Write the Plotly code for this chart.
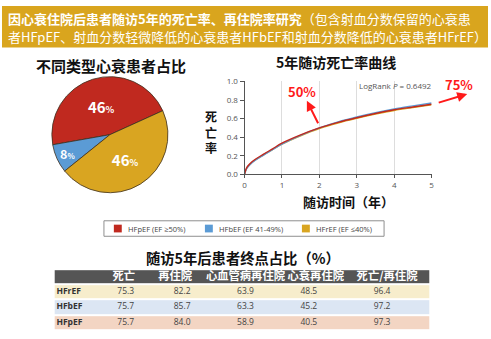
import plotly.graph_objects as go

W, H = 491, 339
FONT = "Noto Sans CJK SC"

# ---- data ----
groups = ["HFpEF (EF ≥50%)", "HFbEF (EF 41-49%)", "HFrEF (EF ≤40%)"]
group_colors = ["#C0291F", "#5B9BD5", "#D9A521"]
pie_values = [46, 8, 46]

years = [0, 0.05, 0.1, 0.2, 0.3, 0.5, 0.75, 1, 1.5, 2, 2.5, 3, 3.5, 4, 4.5, 5]
mort_hfpef = [0, 0.065, 0.095, 0.135, 0.165, 0.215, 0.275, 0.335, 0.425, 0.50, 0.56, 0.61, 0.655, 0.695, 0.725, 0.755]
mort_hfbef = [0, 0.055, 0.085, 0.125, 0.155, 0.205, 0.265, 0.325, 0.42, 0.50, 0.565, 0.618, 0.664, 0.704, 0.737, 0.768]
mort_hfref = [0, 0.058, 0.088, 0.128, 0.158, 0.208, 0.266, 0.325, 0.415, 0.493, 0.553, 0.603, 0.648, 0.688, 0.72, 0.75]

table_cols = ["死亡", "再住院", "心血管病再住院", "心衰再住院", "死亡/再住院"]
table_rows = ["HFrEF", "HFbEF", "HFpEF"]
t_death = [75.3, 75.7, 75.7]
t_readm = [82.2, 85.7, 84.0]
t_cv_readm = [63.9, 63.3, 58.9]
t_hf_readm = [48.5, 45.2, 40.5]
t_death_readm = [96.4, 97.2, 97.3]
table_values = [t_death, t_readm, t_cv_readm, t_hf_readm, t_death_readm]
header_fill = "#555555"
row_fills = ["#F7EDCC", "#DCE6F3", "#F3D5C3"]

# table layout (horizontal positions in pixels of the figure)
table_left, table_right = 53, 432
header_x = [123, 175, 246, 317, 389]
value_x = [125, 182, 246, 310, 384]
label_x = 55

# legend layout (pixels)
legend_box = (103, 222, 386, 238)
legend_sym_x = [113, 205, 303]
legend_sym = 8


def px_x(x):
    return x / W


def px_y(y):
    return 1 - y / H


fig = go.Figure()

# ---- pie ----
fig.add_trace(go.Pie(
    labels=groups,
    values=pie_values,
    sort=False,
    direction="counterclockwise",
    rotation=-100,
    marker=dict(colors=group_colors, line=dict(color="#3d3020", width=0.8)),
    texttemplate="<b>%{value}<span style='font-size:9px'>%</span></b>",
    textposition="inside",
    insidetextorientation="horizontal",
    textfont=dict(family=FONT, size=15, color="white"),
    domain=dict(x=[px_x(49), px_x(169)], y=[px_y(193), px_y(73)]),
    hoverinfo="skip",
    showlegend=False,
))

# ---- survival curves ----
for ys, col in [(mort_hfref, group_colors[2]),
                (mort_hfbef, group_colors[1]),
                (mort_hfpef, group_colors[0])]:
    fig.add_trace(go.Scatter(
        x=years, y=ys, mode="lines", line=dict(color=col, width=1.4, shape="spline"),
        showlegend=False, hoverinfo="skip", xaxis="x", yaxis="y"))

# ---- table (row bands + text) ----
row_idx = list(range(len(table_rows) + 1))  # 0 = header
fills = [header_fill] + row_fills
n = len(fills)
colorscale = []
for i, c in enumerate(fills):
    colorscale.append([i / n, c])
    colorscale.append([(i + 1) / n, c])
fig.add_trace(go.Heatmap(
    z=[[i] for i in row_idx], x=[table_left, table_right], y=row_idx,
    zmin=-0.5, zmax=n - 0.5, colorscale=colorscale, showscale=False,
    ygap=2, hoverinfo="skip", xaxis="x2", yaxis="y2"))

fig.add_trace(go.Scatter(
    x=header_x, y=[0] * len(table_cols), text=table_cols, mode="text",
    textfont=dict(family=FONT, size=11.3, color="white", weight="bold"),
    showlegend=False, hoverinfo="skip", xaxis="x2", yaxis="y2"))

fig.add_trace(go.Scatter(
    x=[label_x] * len(table_rows), y=row_idx[1:], text=table_rows, mode="text",
    textposition="middle right",
    textfont=dict(family="Open Sans", size=8.5, color="#333333", weight="bold"),
    showlegend=False, hoverinfo="skip", xaxis="x2", yaxis="y2"))

vx, vy, vt = [], [], []
for cx, col in zip(value_x, table_values):
    for r, v in enumerate(col):
        vx.append(cx)
        vy.append(r + 1)
        vt.append(f"{v:.1f}")
fig.add_trace(go.Scatter(
    x=vx, y=vy, text=vt, mode="text",
    textfont=dict(family="Open Sans", size=8.5, color="#444444"),
    showlegend=False, hoverinfo="skip", xaxis="x2", yaxis="y2"))

annotations = [
    dict(text="<b>因心衰住院后患者随访5年的死亡率、再住院率研究</b>（包含射血分数保留的心衰患",
         x=px_x(4), y=px_y(13), xanchor="left",
         font=dict(family=FONT, size=13, color="white")),
    dict(text="者HFpEF、射血分数轻微降低的心衰患者HFbEF和射血分数降低的心衰患者HFrEF）",
         x=px_x(4), y=px_y(32), xanchor="left",
         font=dict(family=FONT, size=13, color="white")),
    dict(text="<b>不同类型心衰患者占比</b>", x=px_x(110), y=px_y(61),
         font=dict(family=FONT, size=15, color="#111111")),
    dict(text="<b>5年随访死亡率曲线</b>", x=px_x(337), y=px_y(58),
         font=dict(family=FONT, size=14, color="#111111")),
    dict(text="<b>死<br>亡<br>率</b>", x=px_x(211), y=px_y(130),
         font=dict(family=FONT, size=12, color="#111111")),
    dict(text="<b>随访时间（年）</b>", x=px_x(350), y=px_y(202),
         font=dict(family=FONT, size=13, color="#111111")),
    dict(text="LogRank <i>P</i> = 0.6492", x=px_x(398), y=px_y(82),
         font=dict(family="Open Sans", size=8, color="#555555")),
    dict(text="<b>50%</b>", x=px_x(303), y=px_y(88),
         font=dict(family=FONT, size=13, color="#FF1A1A")),
    dict(text="<b>75%</b>", x=px_x(462), y=px_y(81),
         font=dict(family=FONT, size=13, color="#FF1A1A")),
    dict(text="", x=px_x(308), y=px_y(98), showarrow=True, ax=12, ay=24,
         arrowhead=2, arrowsize=1, arrowwidth=2, arrowcolor="#FF1A1A"),
    dict(text="", x=px_x(470), y=px_y(91), showarrow=True, ax=-30, ay=9,
         arrowhead=2, arrowsize=1, arrowwidth=2, arrowcolor="#FF1A1A"),
    dict(text="<b>随访5年后患者终点占比（%）</b>", x=px_x(243), y=px_y(259.5),
         font=dict(family=FONT, size=14.3, color="#111111")),
]

# ---- legend (custom box) ----
lx0, ly0, lx1, ly1 = legend_box
ly_mid = (ly0 + ly1) / 2
shapes = [
    dict(type="rect", xref="paper", yref="paper", x0=0, x1=1,
         y0=px_y(43), y1=1, fillcolor="#D9A51E", line=dict(width=0), layer="below"),
    dict(type="rect", xref="paper", yref="paper", x0=px_x(lx0), x1=px_x(lx1),
         y0=px_y(ly1), y1=px_y(ly0), line=dict(color="#8f8f8f", width=1),
         fillcolor="rgba(0,0,0,0)"),
]
for sx, name, col in zip(legend_sym_x, groups, group_colors):
    shapes.append(dict(type="rect", xref="paper", yref="paper",
                       x0=px_x(sx), x1=px_x(sx + legend_sym),
                       y0=px_y(ly_mid + legend_sym / 2), y1=px_y(ly_mid - legend_sym / 2),
                       fillcolor=col, line=dict(width=0)))
    annotations.append(dict(text=name, x=px_x(sx + legend_sym + 4), y=px_y(ly_mid),
                            xanchor="left",
                            font=dict(family="Open Sans", size=7.5, color="#444444")))

for a in annotations:
    a.setdefault("xref", "paper")
    a.setdefault("yref", "paper")
    a.setdefault("showarrow", False)
    a.setdefault("xanchor", "center")
    a.setdefault("yanchor", "middle")

hidden = dict(showgrid=False, zeroline=False, showticklabels=False, showline=False,
              ticks="", fixedrange=True)

fig.update_layout(
    width=W, height=H,
    margin=dict(l=0, r=0, t=0, b=0),
    paper_bgcolor="white", plot_bgcolor="rgba(0,0,0,0)",
    font=dict(family=FONT),
    showlegend=False,
    xaxis=dict(domain=[px_x(245), px_x(434)], range=[0, 5], showgrid=True,
               gridcolor="#DDDDDD", gridwidth=1, zeroline=False, showline=True,
               linecolor="#555555", linewidth=1, ticks="outside", ticklen=3,
               tickcolor="#555555", dtick=1, tickfont=dict(family="Open Sans", size=8, color="#555555"),
               fixedrange=True, anchor="y"),
    yaxis=dict(domain=[px_y(174), px_y(78)], range=[0, 1], showgrid=False,
               zeroline=False, showline=True, linecolor="#555555", linewidth=1,
               ticks="outside", ticklen=4, tickcolor="#555555", dtick=0.2,
               tickformat=".1f", tickfont=dict(family="Open Sans", size=8, color="#555555"),
               fixedrange=True, anchor="x"),
    xaxis2=dict(domain=[px_x(table_left), px_x(table_right)], range=[table_left, table_right],
                anchor="y2", **hidden),
    yaxis2=dict(domain=[px_y(335), px_y(272)], range=[3.5, -0.5], anchor="x2", **hidden),
    shapes=shapes,
    annotations=annotations,
)

fig.write_html("out.html", config={"displayModeBar": False})
